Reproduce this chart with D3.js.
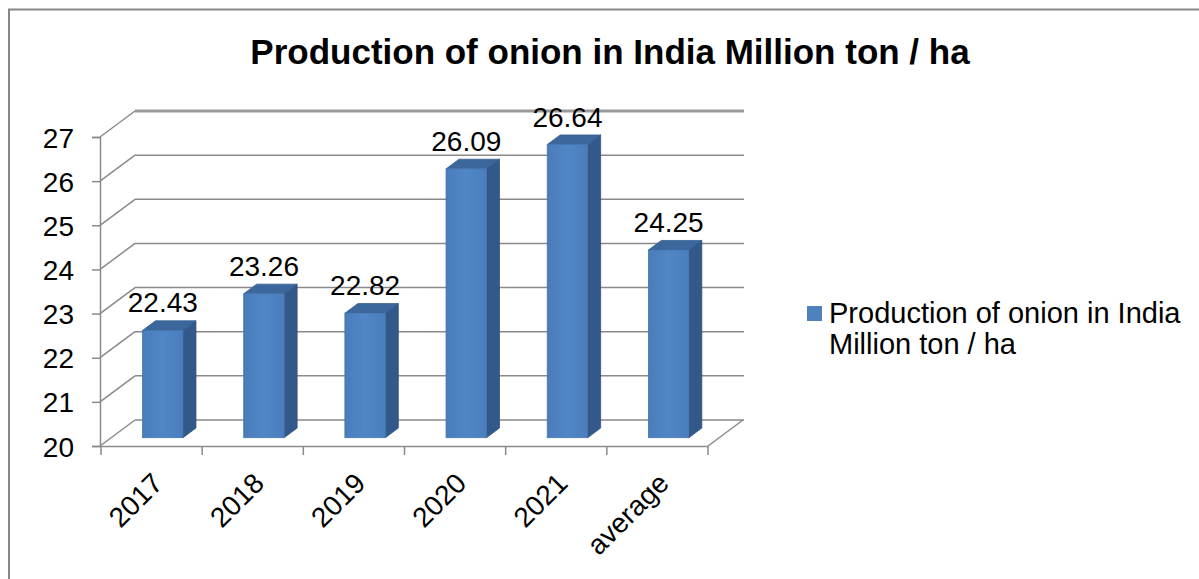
<!DOCTYPE html>
<html>
<head>
<meta charset="utf-8">
<script src="https://cdn.jsdelivr.net/npm/d3@7"></script>
<style>
  html, body { margin: 0; padding: 0; background: #fff; }
  svg text { font-family: "Liberation Sans", Arial, sans-serif; fill: #000; }
</style>
</head>
<body>
<svg id="chart" width="1199" height="579"></svg>
<script>
// Onion production in India, million ton / ha
const categories = ["2017", "2018", "2019", "2020", "2021", "average"];
const values = [22.43, 23.26, 22.82, 26.09, 26.64, 24.25];
const yTicks = [20, 21, 22, 23, 24, 25, 26, 27];
const titleText = "Production of onion in India Million ton / ha";
const seriesName = ["Production of onion in India", "Million ton / ha"];

const svg = d3.select("#chart");

// Outer frame of the chart area
svg.append("path")
  .attr("d", "M9,579 V9.5 H1199")
  .attr("fill", "none")
  .attr("stroke", "#878787")
  .attr("stroke-width", 2);

// Front plane scales
const y = d3.scaleLinear().domain([20, 27]).range([446, 137]);
const x = d3.scaleBand().domain(categories).range([101, 708]);

// Oblique depth: 0 = front edge, 1 = back wall
const depthX = d3.scaleLinear().domain([0, 1]).range([0, 35]);
const depthY = d3.scaleLinear().domain([0, 1]).range([0, -26]);
const barFront = 0.32, barBack = 0.69;
const barWidthFrac = 0.40;
const backRight = 744;

const gridColor = "#8a8a8a";
const walls = svg.append("g");

// Gridlines: diagonal on the side wall, horizontal across the back wall
yTicks.forEach(v => {
  const x0 = x.range()[0] - 1, x1 = x0 + depthX(1);
  const y0 = y(v), y1 = y(v) + depthY(1);
  const top = v === 27;
  walls.append("line")
    .attr("x1", x0).attr("y1", y0).attr("x2", x1).attr("y2", y1)
    .attr("stroke", gridColor).attr("stroke-width", 1.5);
  walls.append("line")
    .attr("x1", x1).attr("y1", y1).attr("x2", backRight).attr("y2", y1)
    .attr("stroke", top ? "#9a9a9a" : gridColor)
    .attr("stroke-width", top ? 3 : 1.5);
});

// Right edge of the floor
walls.append("line")
  .attr("x1", x.range()[1]).attr("y1", y(20))
  .attr("x2", x.range()[1] + depthX(1)).attr("y2", y(20) + depthY(1))
  .attr("stroke", gridColor).attr("stroke-width", 1.5);

// Axes
const yAxis = d3.axisLeft(y).tickValues(yTicks).tickSize(8).tickPadding(18).tickFormat(d3.format("d"));
const gy = svg.append("g").attr("transform", `translate(${x.range()[0] - 1},0)`).call(yAxis);
gy.select(".domain").attr("stroke", gridColor).attr("stroke-width", 1.5);
gy.selectAll(".tick line").attr("stroke", gridColor).attr("stroke-width", 1.5);
gy.selectAll(".tick text").attr("font-size", 28).attr("dy", "0.36em")
  .style("font-family", "'Liberation Sans', Arial, sans-serif");

const xAxis = d3.axisBottom(x).tickSize(0).tickFormat("");
const gx = svg.append("g").attr("transform", `translate(0,${y(20)})`).call(xAxis);
gx.select(".domain").attr("stroke", gridColor).attr("stroke-width", 1.5);
// Tick marks at the category boundaries
const bounds = categories.map(c => x(c)).concat([x.range()[1]]);
gx.selectAll(".bound").data(bounds).enter().append("line")
  .attr("x1", d => d).attr("x2", d => d)
  .attr("y1", 0).attr("y2", 9)
  .attr("stroke", gridColor).attr("stroke-width", 1.5);

// Rotated category labels
svg.append("g").selectAll("text").data(categories).enter().append("text")
  .attr("text-anchor", "end")
  .attr("font-size", 28)
  .attr("transform", d => `translate(${x(d) + x.bandwidth() / 2 + 13},${485}) rotate(-45)`)
  .text(d => d);

// 3D bars: side, top and front faces
const bw = x.bandwidth() * barWidthFrac;
const dx = depthX(barBack) - depthX(barFront);
const dy = depthY(barBack) - depthY(barFront);
const bars = svg.append("g").selectAll("g").data(categories.map((c, i) => ({ c, v: values[i] })))
  .enter().append("g");

function faceFrontX(d) { return x(d.c) + x.bandwidth() / 2 - bw / 2 + depthX(barFront); }
function faceTopY(d) { return y(d.v) + depthY(barFront); }
const faceBottomY = y(20) + depthY(barFront);

const grad = svg.append("defs").append("linearGradient").attr("id", "front")
  .attr("x1", 0).attr("x2", 1).attr("y1", 0).attr("y2", 0);
grad.append("stop").attr("offset", "0%").attr("stop-color", "#4a7cba");
grad.append("stop").attr("offset", "50%").attr("stop-color", "#5087c6");
grad.append("stop").attr("offset", "100%").attr("stop-color", "#4a7dbb");

bars.append("path")
  .attr("d", d => {
    const x1 = faceFrontX(d) + bw, t = faceTopY(d);
    return `M${x1},${t} L${x1 + dx},${t + dy} L${x1 + dx},${faceBottomY + dy} L${x1},${faceBottomY} Z`;
  })
  .attr("fill", "#33598a").attr("stroke", "#2c4f7c").attr("stroke-width", 0.8);

bars.append("path")
  .attr("d", d => {
    const x0 = faceFrontX(d), t = faceTopY(d);
    return `M${x0},${t} L${x0 + dx},${t + dy} L${x0 + bw + dx},${t + dy} L${x0 + bw},${t} Z`;
  })
  .attr("fill", "#3c679c").attr("stroke", "#355d8f").attr("stroke-width", 0.8);

bars.append("rect")
  .attr("x", d => faceFrontX(d))
  .attr("y", d => faceTopY(d))
  .attr("width", bw)
  .attr("height", d => faceBottomY - faceTopY(d))
  .attr("fill", "url(#front)").attr("stroke", "#4575b0").attr("stroke-width", 0.8);

// Value labels
bars.append("text")
  .attr("text-anchor", "middle")
  .attr("font-size", 28)
  .attr("x", d => faceFrontX(d) + bw / 2)
  .attr("y", d => faceTopY(d) - 18)
  .text(d => d.v.toFixed(2));

// Title
svg.append("text")
  .attr("x", 610).attr("y", 64)
  .attr("text-anchor", "middle")
  .attr("font-size", 35).attr("font-weight", "bold")
  .text(titleText);

// Legend
const lg = svg.append("g");
lg.append("rect").attr("x", 807).attr("y", 306).attr("width", 15).attr("height", 15).attr("fill", "#4f81bd");
lg.selectAll("text").data(seriesName).enter().append("text")
  .attr("x", 829).attr("y", (d, i) => 323 + i * 31)
  .attr("font-size", 29)
  .text(d => d);
</script>
</body>
</html>
